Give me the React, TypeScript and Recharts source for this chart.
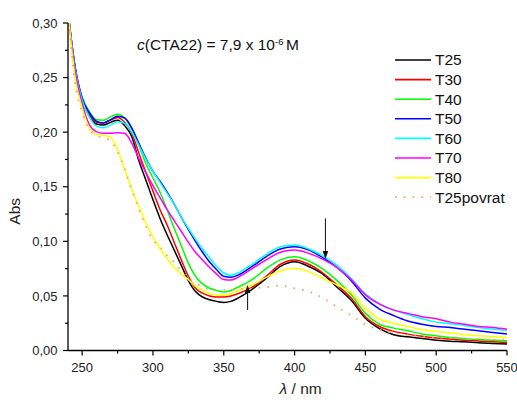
import React from 'react';
import { LineChart, Line, XAxis, YAxis, Legend, ReferenceLine } from 'recharts';

// wavelength grid (nm) and absorbance
const WAVELENGTH = [
  240, 245, 250, 255, 260, 265, 270, 275, 280, 285, 290, 295, 300, 305, 310, 315, 320, 325, 330, 335, 340, 345,
  350, 355, 360, 370, 380, 390, 400, 410, 420, 430, 440, 450, 460, 470, 480, 490, 500, 510, 520, 530, 540, 550,
];

const T25 = [
  0.31, 0.258, 0.229, 0.215, 0.2075, 0.2065, 0.209, 0.211, 0.206, 0.196, 0.174, 0.156, 0.138, 0.121, 0.106, 0.092,
  0.078, 0.064, 0.054, 0.049, 0.0465, 0.045, 0.044, 0.045, 0.048, 0.056, 0.066, 0.077, 0.0813, 0.077, 0.07, 0.058,
  0.046, 0.0295, 0.02, 0.0145, 0.0125, 0.011, 0.0095, 0.0085, 0.008, 0.007, 0.0065, 0.006,
];
const T30 = [
  0.31, 0.259, 0.23, 0.216, 0.209, 0.2085, 0.211, 0.2135, 0.209, 0.199, 0.181, 0.163, 0.146, 0.129, 0.115, 0.099,
  0.083, 0.068, 0.057, 0.0525, 0.05, 0.049, 0.049, 0.05, 0.052, 0.058, 0.068, 0.079, 0.083, 0.079, 0.071, 0.06,
  0.048, 0.031, 0.022, 0.0175, 0.015, 0.013, 0.0115, 0.0105, 0.0095, 0.0088, 0.008, 0.0075,
];
const T40 = [
  0.31, 0.26, 0.232, 0.219, 0.2115, 0.211, 0.214, 0.2165, 0.213, 0.203, 0.188, 0.171, 0.158, 0.145, 0.129, 0.112,
  0.096, 0.08, 0.068, 0.061, 0.057, 0.055, 0.0535, 0.055, 0.058, 0.065, 0.075, 0.083, 0.0859, 0.082, 0.0745, 0.064,
  0.051, 0.034, 0.024, 0.0205, 0.018, 0.0152, 0.0135, 0.012, 0.011, 0.01, 0.0095, 0.009,
];
const T50 = [
  0.31, 0.26, 0.231, 0.218, 0.21, 0.2085, 0.2115, 0.2145, 0.213, 0.204, 0.19, 0.176, 0.164, 0.155, 0.145, 0.134,
  0.122, 0.111, 0.1, 0.09, 0.081, 0.074, 0.068, 0.067, 0.069, 0.077, 0.086, 0.093, 0.095, 0.092, 0.085, 0.076,
  0.064, 0.048, 0.038, 0.032, 0.027, 0.024, 0.022, 0.021, 0.0195, 0.018, 0.0165, 0.0151,
];
const T60 = [
  0.31, 0.258, 0.229, 0.214, 0.2055, 0.204, 0.2065, 0.2095, 0.208, 0.2, 0.188, 0.175, 0.164, 0.154, 0.144, 0.134,
  0.122, 0.112, 0.102, 0.093, 0.085, 0.077, 0.071, 0.069, 0.071, 0.079, 0.088, 0.095, 0.0966, 0.093, 0.0865, 0.078,
  0.066, 0.052, 0.043, 0.037, 0.033, 0.029, 0.026, 0.0245, 0.023, 0.021, 0.0195, 0.0185,
];
const T70 = [
  0.31, 0.256, 0.226, 0.207, 0.2005, 0.199, 0.199, 0.1995, 0.199, 0.19, 0.176, 0.163, 0.151, 0.14, 0.129, 0.119,
  0.109, 0.099, 0.09, 0.083, 0.076, 0.07, 0.065, 0.0645, 0.067, 0.075, 0.083, 0.09, 0.092, 0.089, 0.0835, 0.076,
  0.065, 0.051, 0.0425, 0.037, 0.034, 0.031, 0.029, 0.026, 0.024, 0.022, 0.021, 0.0195,
];
const T80 = [
  0.31, 0.25, 0.222, 0.204, 0.198, 0.197, 0.1955, 0.184, 0.166, 0.148, 0.132, 0.117, 0.104, 0.093, 0.084, 0.076,
  0.07, 0.065, 0.059, 0.055, 0.052, 0.0508, 0.0505, 0.052, 0.055, 0.06, 0.067, 0.073, 0.0753, 0.072, 0.066, 0.06,
  0.053, 0.0386, 0.0286, 0.025, 0.022, 0.019, 0.0175, 0.016, 0.0145, 0.0135, 0.0128, 0.012,
];
const T25_POVRAT = [
  0.31, 0.245, 0.218, 0.203, 0.197, 0.195, 0.192, 0.182, 0.166, 0.147, 0.13, 0.114, 0.101, 0.095, 0.087, 0.081,
  0.073, 0.066, 0.062, 0.058, 0.056, 0.0555, 0.0553, 0.0555, 0.056, 0.057, 0.058, 0.0594, 0.057, 0.054, 0.048, 0.04,
  0.032, 0.024, 0.019, 0.016, 0.014, 0.013, 0.012, 0.0115, 0.011, 0.0105, 0.01, 0.01,
];

const SERIES = [
  { name: 'T25', values: T25, color: '#000000' },
  { name: 'T30', values: T30, color: '#ff0000' },
  { name: 'T40', values: T40, color: '#00ff00' },
  { name: 'T50', values: T50, color: '#0000ff' },
  { name: 'T60', values: T60, color: '#00ffff' },
  { name: 'T70', values: T70, color: '#ff00ff' },
  { name: 'T80', values: T80, color: '#ffff00' },
  { name: 'T25povrat', values: T25_POVRAT, color: '#f8a050', dash: '1.6 7.2' },
];

const X_TICKS = [250, 275, 300, 325, 350, 375, 400, 425, 450, 475, 500, 525, 550];
const Y_TICKS = [0, 0.025, 0.05, 0.075, 0.1, 0.125, 0.15, 0.175, 0.2, 0.225, 0.25, 0.275, 0.3];

// arrows: wavelength, tail and head absorbance
const ARROWS = [
  { nm: 366.8, from: 0.037, to: 0.06 },
  { nm: 421.8, from: 0.121, to: 0.0838 },
];

const FONT = "'Liberation Sans', Arial, sans-serif";

const data = WAVELENGTH.map((nm, i) => {
  const row: Record<string, number> = { nm };
  SERIES.forEach((s) => {
    row[s.name] = s.values[i];
  });
  return row;
});

const XTick = (props: any) => {
  const { x, y, payload } = props;
  const major = payload.value % 50 === 0;
  return (
    <g>
      <line x1={x} y1={y} x2={x} y2={y + (major ? 5 : 3)} stroke="#000" strokeWidth={1.2} />
      {major && (
        <text x={x} y={y + 12.5} dy="0.71em" textAnchor="middle" fontSize={13} fontFamily={FONT} fill="#222">
          {payload.value}
        </text>
      )}
    </g>
  );
};

const YTick = (props: any) => {
  const { x, y, payload } = props;
  const major = Math.round(payload.value * 1000) % 50 === 0;
  return (
    <g>
      <line x1={x} y1={y} x2={x - (major ? 5 : 3)} y2={y} stroke="#000" strokeWidth={1.2} />
      {major && (
        <text x={x - 10.5} y={y} dy="0.355em" textAnchor="end" fontSize={13} fontFamily={FONT} fill="#222">
          {payload.value.toFixed(2).replace('.', ',')}
        </text>
      )}
    </g>
  );
};

const renderYTitle = (props: any) => {
  const vb = props.viewBox;
  const cx = vb.x - 3.5;
  const cy = vb.y + vb.height * 0.575;
  return (
    <text x={cx} y={cy} dy="0.35em" textAnchor="middle" transform={`rotate(-90, ${cx}, ${cy})`} fontSize={15.5} fontFamily={FONT} fill="#222">
      Abs
    </text>
  );
};

const renderXTitle = (props: any) => {
  const vb = props.viewBox;
  const cx = vb.x + vb.width * 0.53;
  return (
    <text x={cx} y={vb.y + 43.5} textAnchor="middle" fontSize={15.5} fontFamily={FONT} fill="#222">
      <tspan fontStyle="italic">λ</tspan> / nm
    </text>
  );
};

const arrowShape = (props: any) => {
  const { x1, y1, x2, y2 } = props;
  const dir = y2 < y1 ? 1 : -1;
  return (
    <g>
      <line x1={x1} y1={y1} x2={x2} y2={y2 + dir * 6} stroke="#222" strokeWidth={1.1} />
      <polygon points={`${x2},${y2} ${x2 - 2.8},${y2 + dir * 8} ${x2 + 2.8},${y2 + dir * 8}`} fill="#111" />
    </g>
  );
};

const renderLegend = () => (
  <svg width={125} height={160}>
    {SERIES.map((s, i) => (
      <g key={s.name} transform={`translate(0, ${10 + i * 19.6})`}>
        <line x1={3} x2={39} y1={0} y2={0} stroke={s.color} strokeWidth={s.dash ? 1.8 : 1.6} strokeDasharray={s.dash} />
        <text x={43} y={0} dy="0.35em" fontSize={15.5} fontFamily={FONT} fill="#111">
          {s.name}
        </text>
      </g>
    ))}
  </svg>
);

export default function App() {
  return (
    <div style={{ position: 'absolute', left: 0, top: 0, width: 517, height: 405, background: '#fff' }}>
      <LineChart width={517} height={405} data={data} margin={{ top: 23, right: 10, bottom: 24.5, left: 18 }}>
        <XAxis
          dataKey="nm"
          type="number"
          domain={[240, 550]}
          ticks={X_TICKS}
          interval={0}
          tick={<XTick />}
          tickLine={false}
          tickSize={0}
          tickMargin={0}
          height={30}
          axisLine={{ stroke: '#000', strokeWidth: 1.3 }}
          label={renderXTitle}
        />
        <YAxis
          type="number"
          domain={[0, 0.3]}
          allowDataOverflow
          ticks={Y_TICKS}
          interval={0}
          tick={<YTick />}
          tickLine={false}
          tickSize={0}
          tickMargin={0}
          width={50}
          axisLine={{ stroke: '#000', strokeWidth: 1.3 }}
          label={renderYTitle}
        />
        {SERIES.map((s) => (
          <Line
            key={s.name}
            dataKey={s.name}
            name={s.name}
            type="monotone"
            stroke={s.color}
            strokeWidth={s.dash ? 1.8 : 1.5}
            strokeDasharray={s.dash}
            dot={false}
            activeDot={false}
            isAnimationActive={false}
          />
        ))}
        {ARROWS.map((a, i) => (
          <ReferenceLine
            key={i}
            segment={[
              { x: a.nm, y: a.from },
              { x: a.nm, y: a.to },
            ]}
            shape={arrowShape}
          />
        ))}
        <Legend
          layout="vertical"
          align="center"
          verticalAlign="middle"
          content={renderLegend}
          wrapperStyle={{ top: 50, left: 392, width: 125, height: 160 }}
        />
      </LineChart>
      <svg width={517} height={405} style={{ position: 'absolute', left: 0, top: 0, pointerEvents: 'none' }}>
        <text x={137} y={49.5} fontSize={15.5} fontFamily={FONT} fill="#111">
          <tspan fontStyle="italic">c</tspan>(CTA22) = 7,9 x 10
          <tspan fontSize={9.5} dy={-5}>-6 </tspan>
          <tspan dy={5}>M</tspan>
        </text>
      </svg>
    </div>
  );
}
